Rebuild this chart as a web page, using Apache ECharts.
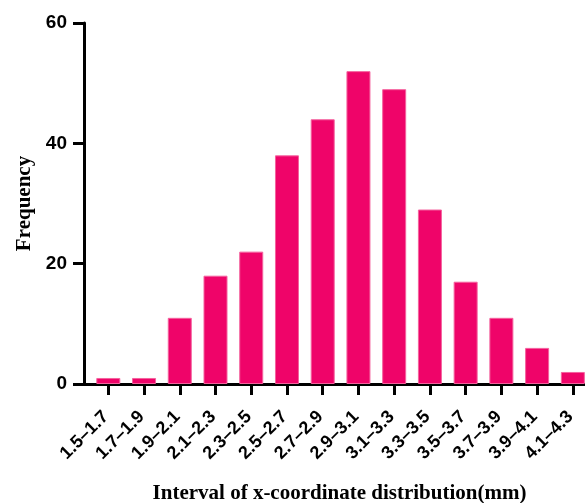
<!DOCTYPE html>
<html>
<head>
<meta charset="utf-8">
<script src="https://cdn.jsdelivr.net/npm/echarts@6/dist/echarts.min.js"></script>
<style>
  html, body { margin: 0; padding: 0; background: #fff; }
  #chart { width: 585px; height: 503px; }
</style>
</head>
<body>
<div id="chart"></div>
<script>
// Interval bins (mm) and how many points fall in each
const categories = ['1.5–1.7', '1.7–1.9', '1.9–2.1', '2.1–2.3', '2.3–2.5', '2.5–2.7', '2.7–2.9',
                    '2.9–3.1', '3.1–3.3', '3.3–3.5', '3.5–3.7', '3.7–3.9', '3.9–4.1', '4.1–4.3'];
const frequency = [1, 1, 11, 18, 22, 38, 44, 52, 49, 29, 17, 11, 6, 2];
const yTicks = [0, 20, 40, 60];

const binIndex = categories.map((c, i) => i);
const barData = frequency.map((v, i) => [i, v]);
// rotated labels sit a touch left of their tick so the text ends just under it
const labelAnchors = binIndex.map(i => i - 0.07);

const chart = echarts.init(document.getElementById('chart'), null, { renderer: 'canvas' });

const tickFont = { fontFamily: 'Liberation Sans, Arial, sans-serif', fontWeight: 'bold', color: '#000' };
const titleFont = { fontFamily: 'Liberation Serif, Times New Roman, serif', fontWeight: 'bold', color: '#000', fontSize: 21 };

chart.setOption({
  animation: false,
  backgroundColor: '#fff',
  grid: { left: 84, right: 0, top: 23, bottom: 119, containLabel: false, outerBoundsMode: 'none' },
  xAxis: {
    type: 'value',
    min: -0.68,
    max: 13.34,
    splitLine: { show: false },
    axisLine: { show: true, onZero: false, lineStyle: { color: '#000', width: 3 } },
    axisTick: { show: true, customValues: binIndex, length: 11, lineStyle: { color: '#000', width: 3 } },
    axisLabel: {
      customValues: labelAnchors,
      rotate: 45,
      margin: 30,
      fontSize: 18,
      ...tickFont,
      formatter: v => categories[Math.round(v)]
    },
    name: 'Interval of x-coordinate distribution(mm)',
    nameLocation: 'middle',
    nameGap: 99,
    nameTextStyle: { ...titleFont, padding: [0, 0, 0, 10] }
  },
  yAxis: {
    type: 'value',
    min: yTicks[0],
    max: yTicks[yTicks.length - 1],
    interval: 20,
    splitLine: { show: false },
    axisLine: { show: true, onZero: false, lineStyle: { color: '#000', width: 3 } },
    axisTick: { show: true, length: 11, lineStyle: { color: '#000', width: 3 } },
    axisLabel: { margin: 17, fontSize: 19, ...tickFont },
    name: 'Frequency',
    nameLocation: 'middle',
    nameGap: 48,
    nameTextStyle: titleFont
  },
  series: [{
    type: 'bar',
    data: barData,
    barWidth: 24,
    itemStyle: { color: '#EF0469', borderColor: '#F4629E', borderWidth: 1 }
  }]
});
</script>
</body>
</html>
